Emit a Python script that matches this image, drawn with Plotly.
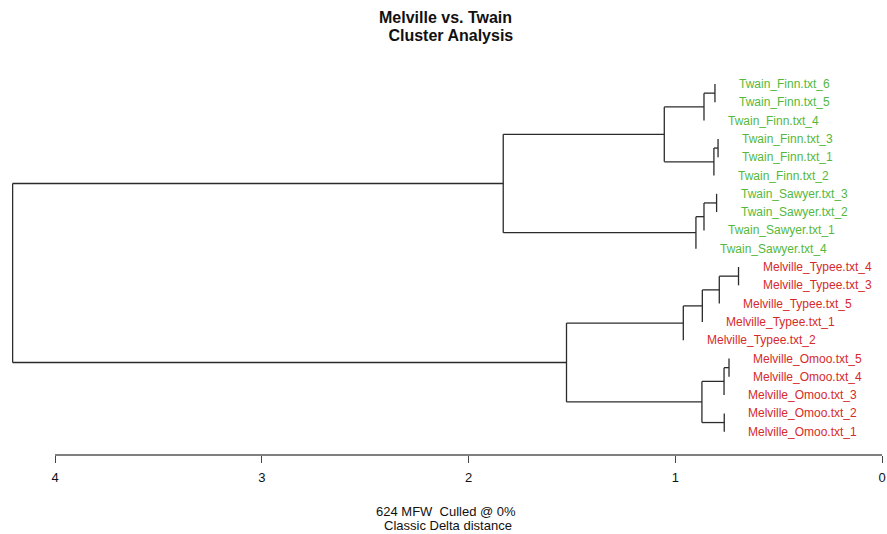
import plotly.graph_objects as go

# ---- data ----
leaves = [
    "Twain_Finn.txt_6", "Twain_Finn.txt_5", "Twain_Finn.txt_4", "Twain_Finn.txt_3",
    "Twain_Finn.txt_1", "Twain_Finn.txt_2", "Twain_Sawyer.txt_3", "Twain_Sawyer.txt_2",
    "Twain_Sawyer.txt_1", "Twain_Sawyer.txt_4", "Melville_Typee.txt_4", "Melville_Typee.txt_3",
    "Melville_Typee.txt_5", "Melville_Typee.txt_1", "Melville_Typee.txt_2", "Melville_Omoo.txt_5",
    "Melville_Omoo.txt_4", "Melville_Omoo.txt_3", "Melville_Omoo.txt_2", "Melville_Omoo.txt_1",
]
# merges: children are leaf names or "m<k>" (earlier merge)
merge_left = ["Twain_Finn.txt_6", "m0", "Twain_Finn.txt_3", "m2", "m1",
              "Twain_Sawyer.txt_3", "m5", "m6", "m4",
              "Melville_Typee.txt_4", "m9", "m10", "m11",
              "Melville_Omoo.txt_5", "m13", "Melville_Omoo.txt_2", "m14", "m12", "m8"]
merge_right = ["Twain_Finn.txt_5", "Twain_Finn.txt_4", "Twain_Finn.txt_1", "Twain_Finn.txt_2", "m3",
               "Twain_Sawyer.txt_2", "Twain_Sawyer.txt_1", "Twain_Sawyer.txt_4", "m7",
               "Melville_Typee.txt_3", "Melville_Typee.txt_5", "Melville_Typee.txt_1", "Melville_Typee.txt_2",
               "Melville_Omoo.txt_4", "Melville_Omoo.txt_3", "Melville_Omoo.txt_1", "m15", "m16", "m17"]
merge_height = [0.808, 0.861, 0.793, 0.813, 1.053,
                0.800, 0.861, 0.900, 1.832,
                0.694, 0.787, 0.869, 0.961,
                0.740, 0.764, 0.763, 0.871, 1.526, 4.205]
tick_values = [0, 1, 2, 3, 4]
title_lines = ["Melville vs. Twain", "\u00a0Cluster Analysis"]
subtitle_lines = ["624 MFW\u00a0 Culled @ 0%", "Classic Delta distance"]

GREEN = "#55b83c"
RED = "#d62a2a"
LINE = "#2b2b2b"
FONT = "Liberation Sans, Arial"

# ---- build tree geometry ----
ypos = {name: i for i, name in enumerate(leaves)}
xpos = {}
for l, r, h in zip(merge_left, merge_right, merge_height):
    for c in (l, r):
        if c in ypos and c not in xpos:
            xpos[c] = h

xs, ys = [], []
for k, (l, r, h) in enumerate(zip(merge_left, merge_right, merge_height)):
    name = f"m{k}"
    yl, yr = ypos[l], ypos[r]
    xs += [h, h, None]
    ys += [yl, yr, None]
    for c in (l, r):
        if xpos[c] != h:
            xs += [xpos[c], h, None]
            ys += [ypos[c], ypos[c], None]
    ypos[name] = (yl + yr) / 2
    xpos[name] = h

fig = go.Figure()
fig.add_trace(go.Scatter(x=xs, y=ys, mode="lines",
                         line=dict(color=LINE, width=1.3),
                         hoverinfo="skip", showlegend=False))

for name in leaves:
    fig.add_annotation(x=xpos[name], y=ypos[name], text=name, showarrow=False,
                       xanchor="left", yanchor="middle", xshift=22,
                       font=dict(family=FONT, size=12,
                                 color=GREEN if name.startswith("Twain") else RED))

W, H = 887, 534
px_per_unit = 206.75
x0_px = 882
fig.update_xaxes(range=[x0_px / px_per_unit, (x0_px - W) / px_per_unit],
                 tickvals=tick_values, ticktext=[str(v) for v in tick_values],
                 ticks="outside", ticklen=7, tickcolor="#444", tickwidth=1,
                 showline=False, showgrid=False, zeroline=False,
                 ticklabelstandoff=3, ticklabeloverflow="allow",
                 tickfont=dict(family=FONT, size=13, color="#111"))

top, bottom = 60, 455
spacing = 18.3
units = (bottom - top) / spacing
first = (84 - top) / spacing
fig.update_yaxes(range=[units - first, -first], visible=False)

fig.add_shape(type="line", xref="x", yref="paper", x0=4, x1=0, y0=0, y1=0,
              line=dict(color="#555", width=1.5))

def py(p):
    return (bottom - p) / (bottom - top)

def pxp(p):
    return p / W

fig.add_annotation(xref="paper", yref="paper", x=pxp(445.5), y=py(17.5),
                   text="<b>" + title_lines[0] + "</b>",
                   showarrow=False, xanchor="center", yanchor="middle",
                   font=dict(family=FONT, size=16, color="#111"))
fig.add_annotation(xref="paper", yref="paper", x=pxp(448), y=py(36),
                   text="<b>" + title_lines[1] + "</b>",
                   showarrow=False, xanchor="center", yanchor="middle",
                   font=dict(family=FONT, size=16, color="#111"))
fig.add_annotation(xref="paper", yref="paper", x=pxp(446), y=py(511), text=subtitle_lines[0],
                   showarrow=False, xanchor="center", yanchor="middle",
                   font=dict(family=FONT, size=13, color="#111"))
fig.add_annotation(xref="paper", yref="paper", x=pxp(448), y=py(525.7), text=subtitle_lines[1],
                   showarrow=False, xanchor="center", yanchor="middle",
                   font=dict(family=FONT, size=13, color="#111"))

fig.update_layout(width=W, height=H, margin=dict(l=0, r=0, t=top, b=H - bottom),
                  plot_bgcolor="white", paper_bgcolor="white", showlegend=False)

# remove the default 8px page margin so the figure fills the window exactly
fig.write_html("out.html",
               config={"displayModeBar": False},
               post_script="document.body.style.margin='0px';document.body.style.overflow='hidden';")
